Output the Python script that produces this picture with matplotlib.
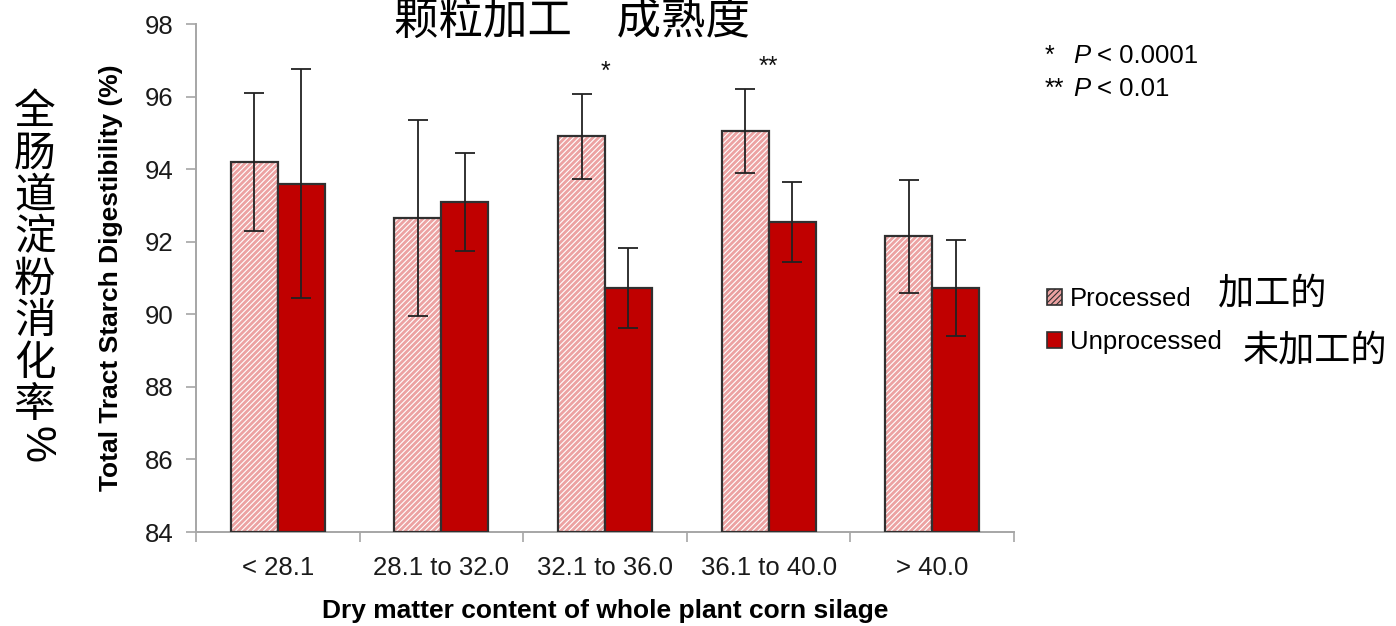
import matplotlib
matplotlib.use("Agg")
import matplotlib.pyplot as plt
from matplotlib.patches import Patch
import numpy as np

plt.rcParams['font.family'] = ['Liberation Sans', 'DejaVu Sans']
plt.rcParams['hatch.linewidth'] = 0.8
CJK = ['Noto Sans CJK SC', 'DejaVu Sans']

# ---------------- data ----------------
groups = ['< 28.1', '28.1 to 32.0', '32.1 to 36.0', '36.1 to 40.0', '> 40.0']
processed = [94.2, 92.65, 94.9, 95.05, 92.15]
processed_err = [1.9, 2.7, 1.17, 1.17, 1.55]
unprocessed = [93.6, 93.1, 90.72, 92.55, 90.72]
unprocessed_err = [3.15, 1.35, 1.1, 1.1, 1.32]
signif = {2: '*', 3: '**'}

pink = '#eca2a2'
red = '#c00000'
edge = '#303030'
grey = '#a6a6a6'

fig = plt.figure(figsize=(13.96, 6.26), dpi=100)
ax = fig.add_axes([196/1396, 94/626, 818/1396, 508/626])

x = np.arange(len(groups))
w = 0.287

# processed: pink with fine white hatch, outlined separately
ax.bar(x - w/2, np.array(processed) - 84, w, bottom=84, color=pink,
       edgecolor='white', linewidth=0, hatch='//////', zorder=2)
ax.bar(x - w/2, np.array(processed) - 84, w, bottom=84, facecolor='none',
       edgecolor=edge, linewidth=1.6, zorder=3)
ax.bar(x + w/2, np.array(unprocessed) - 84, w, bottom=84, color=red,
       edgecolor=edge, linewidth=1.6, zorder=3)

ax.errorbar(x - w/2, processed, yerr=processed_err, fmt='none', ecolor='#222222',
            elinewidth=1.3, capsize=7, capthick=1.3, zorder=4)
ax.errorbar(x + w/2, unprocessed, yerr=unprocessed_err, fmt='none', ecolor='#222222',
            elinewidth=1.3, capsize=7, capthick=1.3, zorder=4)

for i, s in signif.items():
    ax.text(x[i], max(processed[i] + processed_err[i], unprocessed[i] + unprocessed_err[i]) + 0.6,
            s, ha='center', va='center', fontsize=18, color='#111111')

# axes styling
ax.set_xlim(-0.5, len(groups) - 0.5)
ax.set_ylim(84, 98)
ax.set_yticks(np.arange(84, 99, 2))
ax.set_xticks(np.arange(-0.5, len(groups), 1.0))
ax.set_xticklabels([])
ax.set_xticks(x, minor=True)
ax.set_xticklabels(groups, minor=True)
ax.tick_params(axis='x', which='major', length=7, width=1.2, color=grey, direction='out')
ax.tick_params(axis='x', which='minor', length=0, pad=17, labelsize=18.5, labelcolor='#1a1a1a')
ax.tick_params(axis='y', length=7, width=1.2, color=grey, pad=9, labelsize=18.5, labelcolor='#1a1a1a')
for sp in ['top', 'right']:
    ax.spines[sp].set_visible(False)
for sp in ['left', 'bottom']:
    ax.spines[sp].set_color(grey)
    ax.spines[sp].set_linewidth(1.4)

ax.set_xlabel('Dry matter content of whole plant corn silage', fontsize=19,
              fontweight='bold', labelpad=14)
ax.set_ylabel('Total Tract Starch Digestibility (%)', fontsize=19,
              fontweight='bold', labelpad=16)

# legend
handles = [Patch(facecolor=pink, edgecolor=edge, hatch='//////', linewidth=1.2),
           Patch(facecolor=red, edgecolor=edge, linewidth=1.2)]
fig.legend(handles, ['Processed', 'Unprocessed'], loc='upper left',
           bbox_to_anchor=(1047/1396, 1 - 287/626), frameon=False, fontsize=18.5,
           handlelength=0.6, handleheight=0.6, handletextpad=0.3, labelspacing=0.75,
           borderaxespad=0, borderpad=0)
fig.text(1218/1396, 1 - 293/626, '加工的', family=CJK, fontsize=26, va='center')
fig.text(1243/1396, 1 - 350/626, '未加工的', family=CJK, fontsize=26, va='center')

# significance notes
for row, (stars, rest) in enumerate([('*', '< 0.0001'), ('**', '< 0.01')]):
    yy = 1 - (56 + 33 * row) / 626
    fig.text(1045/1396, yy, stars, fontsize=18, va='center')
    fig.text(1073/1396, yy, 'P', fontsize=18.5, style='italic', va='center')
    fig.text(1097/1396, yy, rest, fontsize=18.5, va='center')

# title and vertical Chinese axis label
fig.text(572/1396, 1 - 21/626, '颗粒加工　成熟度', family=CJK, fontsize=32,
         ha='center', va='center')
left_label = list('全肠道淀粉消化率')
for k, ch in enumerate(left_label):
    fig.text(35/1396, 1 - (112 + 42 * k) / 626, ch, family=CJK, fontsize=30,
             ha='center', va='center')
fig.text(35/1396, 1 - (108 + 42 * len(left_label)) / 626, '%', fontsize=30,
         ha='center', va='center', rotation=-90)

fig.savefig('out.png', dpi=100)
